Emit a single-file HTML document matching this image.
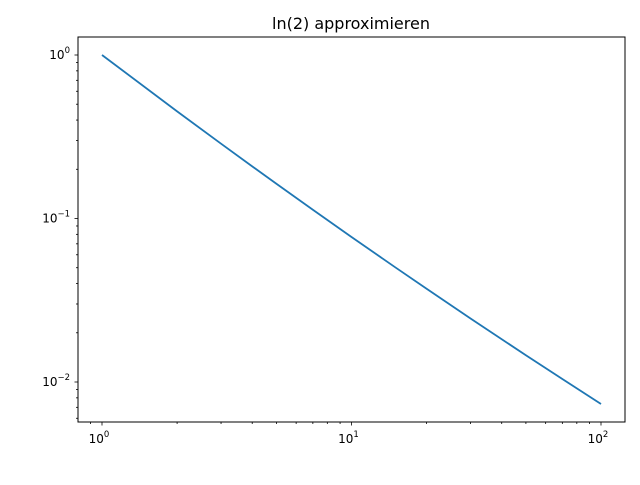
<!DOCTYPE html>
<html><head><meta charset="utf-8"><style>
body{margin:0;background:#fff;}
svg text{font-family:"DejaVu Sans","Liberation Sans",sans-serif;fill:#000;}
</style></head><body>
<svg width="640" height="480" xmlns="http://www.w3.org/2000/svg">
<rect width="640" height="480" fill="#fff"/>
<text x="351" y="29" font-size="16" text-anchor="middle">ln(2) approximieren</text>
<g id="ticks"></g>
<path id="line" fill="none" stroke="#1f77b4" stroke-width="1.8"/>
<rect x="78" y="37" width="547" height="385" fill="none" stroke="#000" stroke-width="1"/>
</svg>
<script>
const nValues=[1,2,3,4,5,7,10,15,20,30,50,70,100];
const errValues=[1,0.452,0.2868,0.2084,0.1631,0.1131,0.0771,0.0502,0.0372,0.02446,0.01457,0.01043,0.00734];
const xDecades=[0,1,2];
const yDecades=[0,-1,-2];
const X=v=>102+(Math.log10(v))*249.5;
const Y=v=>55-(Math.log10(v))*163.5;
const NS="http://www.w3.org/2000/svg";
const g=document.getElementById('ticks');
function ln(x1,y1,x2,y2){const l=document.createElementNS(NS,'line');l.setAttribute('x1',x1);l.setAttribute('y1',y1);l.setAttribute('x2',x2);l.setAttribute('y2',y2);l.setAttribute('stroke','#000');l.setAttribute('stroke-width','0.8');

g.appendChild(l);}
function lab(x,y,d,anchor,name){const t=document.createElementNS(NS,'text');t.setAttribute('x',x);t.setAttribute('y',y);t.setAttribute('font-size','12');t.setAttribute('text-anchor',anchor);


t.innerHTML='10<tspan font-size="8.5" dy="-6">'+d+'</tspan>';g.appendChild(t);}
xDecades.forEach(d=>{const x=X(Math.pow(10,d));ln(x,422,x,425.5);lab(x-3,443,d,'middle','x-tick-label');});
for(let d=-1;d<=2;d++)for(let k=2;k<10;k++){const v=k*Math.pow(10,d);const x=X(v);if(x>78&&x<625)ln(x,422,x,424);}
yDecades.forEach(d=>{const y=Y(Math.pow(10,d));ln(78,y,74.5,y);lab(70,y+4,d===0?'0':'\u2212'+(-d),'end','y-tick-label');});
for(let d=-3;d<=0;d++)for(let k=2;k<10;k++){const v=k*Math.pow(10,d);const y=Y(v);if(y>37&&y<422)ln(78,y,76,y);}
document.getElementById('line').setAttribute('d',nValues.map((n,i)=>(i?'L':'M')+X(n).toFixed(2)+' '+Y(errValues[i]).toFixed(2)).join(' '));
</script>
</body></html>
